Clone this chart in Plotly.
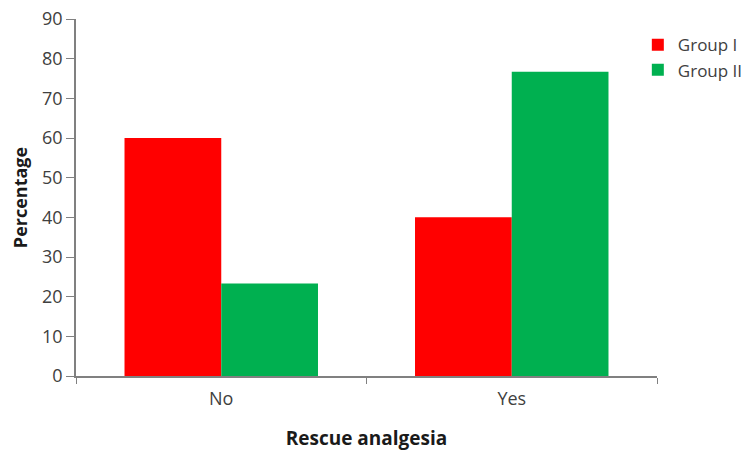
import plotly.graph_objects as go

categories = ["No", "Yes"]
group_1 = [60, 40]
group_2 = [23.3, 76.7]
y_ticks = list(range(0, 91, 10))

text_color = "#404040"
title_color = "#1a1a1a"
axis_color = "#808080"
font_family = "Open Sans, Liberation Sans, sans-serif"

fig = go.Figure()
fig.add_trace(go.Bar(name="Group I", x=categories, y=group_1,
                     marker=dict(color="#FF0000", line=dict(width=0))))
fig.add_trace(go.Bar(name="Group II", x=categories, y=group_2,
                     marker=dict(color="#00B050", line=dict(width=0))))

fig.update_layout(
    width=755, height=454,
    margin=dict(l=76, r=98, t=19, b=78, autoexpand=False),
    paper_bgcolor="white", plot_bgcolor="white",
    barmode="group", bargap=0.334, bargroupgap=0,
    font=dict(family=font_family, size=18, color=text_color),
    showlegend=True,
    legend=dict(x=0.967, y=0.977, xanchor="left", yanchor="top",
                font=dict(size=17, color=text_color),
                itemwidth=30, tracegroupgap=0, bgcolor="rgba(0,0,0,0)"),
)

fig.update_xaxes(
    type="category", showline=True, linecolor=axis_color, linewidth=1.5,
    ticks="outside", tickson="boundaries", ticklen=6, tickcolor=axis_color,
    ticklabelstandoff=6,
    showgrid=False, tickfont=dict(size=18, color=text_color),
    title=dict(text="<b>Rescue analgesia</b>", font=dict(size=19, color=title_color),
               standoff=22),
)
fig.update_yaxes(
    range=[0, 90], tickvals=y_ticks, showline=True, linecolor=axis_color, linewidth=1.5,
    ticks="outside", ticklen=8, tickcolor=axis_color, showgrid=False, zeroline=False,
    tickfont=dict(size=18, color=text_color),
    title=dict(text="<b>Percentage</b>", font=dict(size=18, color=title_color),
               standoff=10),
)

fig.write_html("out.html")
